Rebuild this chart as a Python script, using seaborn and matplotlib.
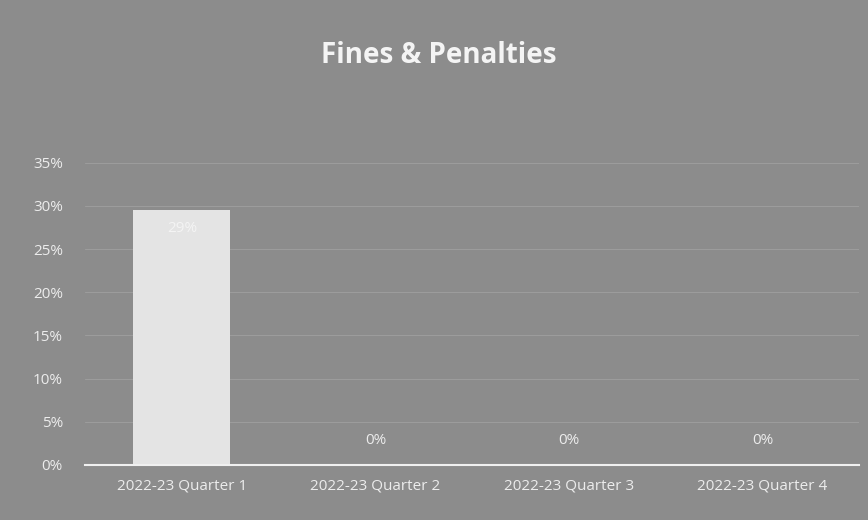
import numpy as np
import pandas as pd
import matplotlib
matplotlib.use("Agg")
import matplotlib.pyplot as plt
import seaborn as sns

quarters = ["2022-23 Quarter 1", "2022-23 Quarter 2", "2022-23 Quarter 3", "2022-23 Quarter 4"]
values = [0.295, 0.0, 0.0, 0.0]
labels = ["29%", "0%", "0%", "0%"]
yticks = [0, 0.05, 0.10, 0.15, 0.20, 0.25, 0.30, 0.35]

df = pd.DataFrame({"Quarter": quarters, "Share": values})

sns.set_style("white")
plt.rcParams['font.family'] = ['Open Sans', 'DejaVu Sans']

bg = "#8c8c8c"
fig = plt.figure(figsize=(8.68, 5.2), dpi=100)
fig.patch.set_facecolor(bg)
ax = fig.add_axes([0.098, 0.106, 0.892, 0.581])
ax.set_facecolor(bg)

sns.barplot(data=df, x="Quarter", y="Share", color="#e4e4e4", width=0.5, ax=ax,
            edgecolor="none", saturation=1)

ax.set_ylim(0, 0.35)
ax.set_yticks(yticks)
ax.set_yticklabels([f"{int(round(t*100))}%" for t in yticks])
ax.grid(axis="y", color="#9c9c9c", linewidth=0.8)
ax.set_axisbelow(True)
for s in ["top", "right", "left"]:
    ax.spines[s].set_visible(False)
ax.spines["bottom"].set_color("#f0f0f0")
ax.spines["bottom"].set_linewidth(1.5)
ax.tick_params(axis="both", length=0, colors="#ececec", labelsize=11)
ax.tick_params(axis="y", pad=16)
ax.tick_params(axis="x", pad=10)
ax.set_xlabel("")
ax.set_ylabel("")

for i, (v, lab) in enumerate(zip(values, labels)):
    if v > 0:
        ax.text(i, v - 0.012, lab, ha="center", va="top", color="#f4f4f4", fontsize=11)
    else:
        ax.text(i, 0.02, lab, ha="center", va="bottom", color="#ececec", fontsize=11)

fig.text(0.505, 0.893, "Fines & Penalties", ha="center", va="center", color="#f4f4f4",
         fontsize=20, fontweight="bold")

plt.savefig("out.png", dpi=100, facecolor=bg)
